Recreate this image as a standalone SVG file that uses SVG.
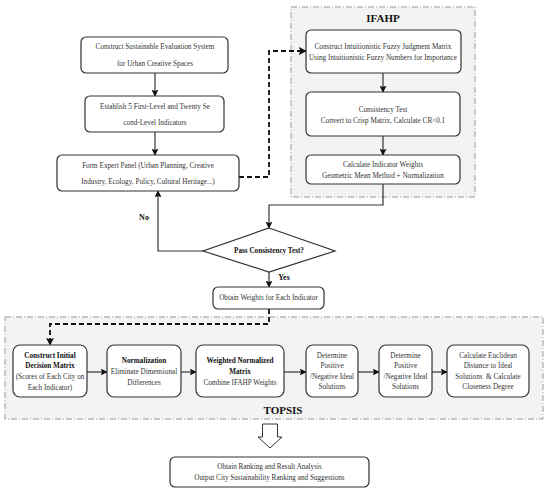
<svg xmlns="http://www.w3.org/2000/svg" width="550" height="492" viewBox="0 0 550 492">
<style>
.box{fill:#fff;stroke:#333;stroke-width:1.2}
.panel{fill:#f3f3f3;stroke:#999;stroke-width:1;stroke-dasharray:6,2,1,2}
.t{font-family:"Liberation Serif","Times New Roman",serif;font-size:7.2px;fill:#333;text-anchor:middle;dominant-baseline:central;white-space:pre}
.b{font-weight:bold;fill:#111}
.title{font-family:"Liberation Serif","Times New Roman",serif;font-size:11px;font-weight:bold;fill:#111;text-anchor:middle;dominant-baseline:central}
.ln{fill:none;stroke:#333;stroke-width:1.2}
.dl{fill:none;stroke:#111;stroke-width:1.8;stroke-dasharray:5,3}
</style>
<defs>
<marker id="ah" viewBox="0 0 10 10" refX="9" refY="5" markerWidth="7" markerHeight="7" orient="auto" markerUnits="userSpaceOnUse"><path d="M0,0 L10,5 L0,10 L2,5 z" fill="#111"/></marker>
<marker id="ahd" viewBox="0 0 10 10" refX="9" refY="5" markerWidth="8" markerHeight="8" orient="auto" markerUnits="userSpaceOnUse"><path d="M0,0 L10,5 L0,10 L2,5 z" fill="#111"/></marker>
</defs>

<g id="panel-ifahp">
<rect class="panel" x="291" y="7" width="184" height="190"/>
<text class="title" x="383" y="18">IFAHP</text>
</g>
<g id="panel-topsis">
<rect class="panel" x="5" y="317" width="538" height="102"/>
<text class="title" x="283" y="410">TOPSIS</text>
</g>

<g id="connectors">
<path class="ln" d="M155,73 V96" marker-end="url(#ah)"/>
<path class="ln" d="M155,132 V155" marker-end="url(#ah)"/>
<path class="dl" d="M239,177 H269 V51 H306" marker-end="url(#ahd)"/>
<path class="ln" d="M383,73 V92" marker-end="url(#ah)"/>
<path class="ln" d="M383,136 V155" marker-end="url(#ah)"/>
<path class="ln" d="M383,184 V205 H269 V228" marker-end="url(#ah)"/>
<path class="ln" d="M203,251 H158 V191" marker-end="url(#ah)"/>
<path class="ln" d="M269,272 V287" marker-end="url(#ah)"/>
<path class="dl" d="M269,309 V324 H50 V345" marker-end="url(#ahd)"/>
<path class="ln" d="M87,372 H107" marker-end="url(#ah)"/>
<path class="ln" d="M181,372 H196" marker-end="url(#ah)"/>
<path class="ln" d="M284,372 H306" marker-end="url(#ah)"/>
<path class="ln" d="M358,372 H379" marker-end="url(#ah)"/>
<path class="ln" d="M432,372 H447" marker-end="url(#ah)"/>
<path d="M262.5,424 H277.5 V437 H282 L270,448 L258,437 H262.5 Z" fill="#fff" stroke="#333" stroke-width="1"/>
<text class="t b" x="144" y="217" style="font-size:8px">No</text>
<text class="t b" x="284" y="277" style="font-size:8px">Yes</text>
</g>

<g id="n1"><rect class="box" x="81" y="37" width="147" height="36" rx="5"/>
<text class="t" x="155" y="47">Construct Sustainable Evaluation System</text>
<text class="t" x="155" y="64">for Urban Creative Spaces</text></g>
<g id="n2"><rect class="box" x="85" y="96" width="139" height="36" rx="5"/>
<text class="t" x="155" y="107">Establish 5 First-Level and Twenty Se</text>
<text class="t" x="155" y="123">cond-Level Indicators</text></g>
<g id="n3"><rect class="box" x="57" y="155" width="182" height="36" rx="5"/>
<text class="t" x="148" y="166">Form Expert Panel (Urban Planning, Creative</text>
<text class="t" x="148" y="182">Industry, Ecology, Policy, Cultural Heritage...)</text></g>

<g id="i1"><rect class="box" x="306" y="30" width="155" height="43" rx="5"/>
<text class="t" x="383" y="47">Construct Intuitionistic Fuzzy Judgment Matrix</text>
<text class="t" x="383" y="58">Using Intuitionistic Fuzzy Numbers for Importance</text></g>
<g id="i2"><rect class="box" x="306" y="92" width="154" height="44" rx="5"/>
<text class="t" x="383" y="110">Consistency Test</text>
<text class="t" x="383" y="121">Convert to Crisp Matrix, Calculate CR&lt;0.1</text></g>
<g id="i3"><rect class="box" x="306" y="155" width="154" height="29" rx="5"/>
<text class="t" x="383" y="165">Calculate Indicator Weights</text>
<text class="t" x="383" y="176">Geometric Mean Method + Normalization</text></g>

<g id="d1"><polygon points="269,228 335,251 269,272 203,251" fill="#fff" stroke="#333" stroke-width="1.2"/>
<text class="t b" x="269" y="251">Pass Consistency Test?</text></g>

<g id="w1"><rect class="box" x="213" y="287" width="111" height="22" rx="5"/>
<text class="t" x="268.5" y="298">Obtain Weights for Each Indicator</text></g>

<g id="t1"><rect class="box" x="13" y="345" width="74" height="52" rx="7"/>
<text class="t b" x="50" y="356">Construct Initial</text>
<text class="t b" x="50" y="366">Decision Matrix</text>
<text class="t" x="50" y="377">(Scores of Each City on</text>
<text class="t" x="50" y="388">Each Indicator)</text></g>
<g id="t2"><rect class="box" x="107" y="345" width="74" height="52" rx="7"/>
<text class="t b" x="144" y="361">Normalization</text>
<text class="t" x="144" y="372">Eliminate Dimensional</text>
<text class="t" x="144" y="383">Differences</text></g>
<g id="t3"><rect class="box" x="196" y="345" width="88" height="52" rx="7"/>
<text class="t b" x="240" y="361">Weighted Normalized</text>
<text class="t b" x="240" y="372">Matrix</text>
<text class="t" x="240" y="383">Combine IFAHP Weights</text></g>
<g id="t4"><rect class="box" x="306" y="345" width="52" height="52" rx="7"/>
<text class="t" x="332" y="356">Determine</text>
<text class="t" x="332" y="366">Positive</text>
<text class="t" x="332" y="377">/Negative Ideal</text>
<text class="t" x="332" y="387">Solutions</text></g>
<g id="t5"><rect class="box" x="379" y="345" width="53" height="52" rx="7"/>
<text class="t" x="405.5" y="356">Determine</text>
<text class="t" x="405.5" y="366">Positive</text>
<text class="t" x="405.5" y="377">/Negative Ideal</text>
<text class="t" x="405.5" y="387">Solutions</text></g>
<g id="t6"><rect class="box" x="447" y="345" width="82" height="52" rx="7"/>
<text class="t" x="488" y="356">Calculate Euclidean</text>
<text class="t" x="488" y="366">Distance to Ideal</text>
<text class="t" x="488" y="377">Solutions  &amp; Calculate</text>
<text class="t" x="488" y="387">Closeness Degree</text></g>

<g id="f1"><rect class="box" x="170" y="457" width="199" height="30" rx="5"/>
<text class="t" x="269.5" y="467">Obtain Ranking and Result Analysis</text>
<text class="t" x="269.5" y="478">Output City Sustainability Ranking and Suggestions</text></g>
</svg>
